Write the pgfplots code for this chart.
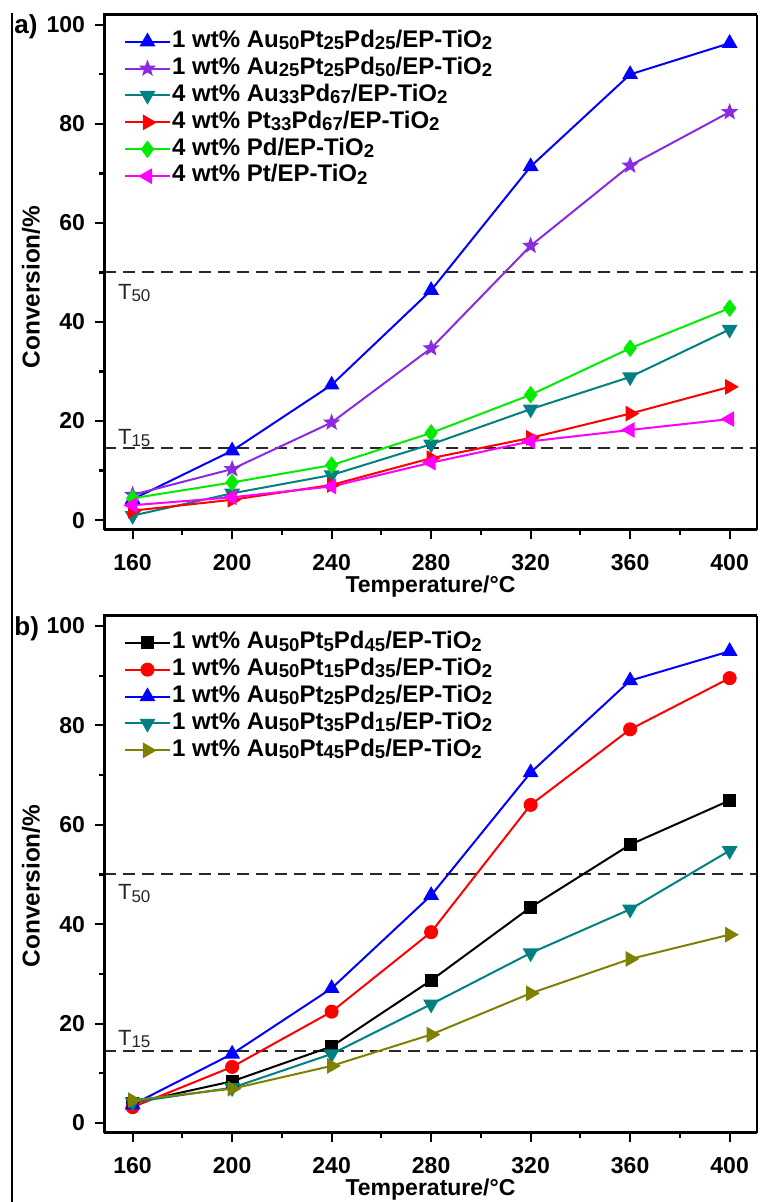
\documentclass[border=0pt]{standalone}
\usepackage{fontspec}
\setmainfont{Liberation Sans}
\usepackage{pgfplots}
\pgfplotsset{compat=1.18}
\definecolor{cblue}{RGB}{0,0,255}
\definecolor{cpurple}{RGB}{138,43,226}
\definecolor{cteal}{RGB}{0,128,128}
\definecolor{cred}{RGB}{255,0,0}
\definecolor{cgreen}{RGB}{0,235,0}
\definecolor{cmag}{RGB}{255,0,255}
\definecolor{colive}{RGB}{128,128,0}
\definecolor{cdash}{RGB}{40,40,40}
\pgfdeclareplotmark{fstar}{%
  \pgfpathmoveto{\pgfpointpolar{90}{1.3\pgfplotmarksize}}%
  \pgfpathlineto{\pgfpointpolar{126}{0.55\pgfplotmarksize}}%
  \pgfpathlineto{\pgfpointpolar{162}{1.3\pgfplotmarksize}}%
  \pgfpathlineto{\pgfpointpolar{198}{0.55\pgfplotmarksize}}%
  \pgfpathlineto{\pgfpointpolar{234}{1.3\pgfplotmarksize}}%
  \pgfpathlineto{\pgfpointpolar{270}{0.55\pgfplotmarksize}}%
  \pgfpathlineto{\pgfpointpolar{306}{1.3\pgfplotmarksize}}%
  \pgfpathlineto{\pgfpointpolar{342}{0.55\pgfplotmarksize}}%
  \pgfpathlineto{\pgfpointpolar{18}{1.3\pgfplotmarksize}}%
  \pgfpathlineto{\pgfpointpolar{54}{0.55\pgfplotmarksize}}%
  \pgfpathclose\pgfusepathqfillstroke}
\newcommand{\subn}[1]{\raisebox{-0.2ex}{\fontsize{9.3pt}{10pt}\selectfont #1}}
\newcommand{\subt}[1]{\raisebox{-0.2ex}{\fontsize{8.5pt}{9pt}\selectfont #1}}
\pgfplotsset{
  panel/.style={
    scale only axis, width=326.5pt,
    xmin=148.5, xmax=411, ymin=-2, ymax=102,
    xtick={160,200,...,400}, ytick={0,20,...,100},
    minor xtick={180,220,...,380}, minor ytick={10,30,...,90},
    tick align=outside, xtick pos=bottom, ytick pos=left,
    major tick length=4.5pt, minor tick length=2.5pt,
    every tick/.style={black, line width=1.1pt},
    axis line style={draw=none},
    tick label style={font=\bfseries\fontsize{11.5}{13}\selectfont},
    xticklabel style={yshift=-4pt},
    yticklabel style={xshift=-1.5pt},
    /pgf/number format/assume math mode=true,
    clip=false,
    legend style={at={(rel axis cs:0.03,0.975)}, anchor=north west, draw=none, fill=none,
      font=\bfseries\fontsize{12}{13}\selectfont, inner sep=0pt, row sep=0pt,
      nodes={inner sep=0.6pt, text height=9pt, text depth=3.25pt}},
    legend cell align=left,
    legend image code/.code={\draw[mark repeat=2,mark phase=2] plot coordinates {(0pt,0pt) (11.25pt,0pt) (22.5pt,0pt)};},
    every axis plot/.append style={line width=1pt, mark size=3.2pt},
  },
  dline/.style={cdash, line width=1pt, dash pattern=on 6pt off 3.5pt, forget plot, mark=none},
}
\begin{document}
\begin{tikzpicture}
\useasboundingbox (0,0) rectangle (380pt,601pt);
\draw[line width=1pt] (5.75pt,0) -- (5.75pt,594.5pt);
% ---------- panel a ----------
\begin{axis}[panel, name=pa, height=257.5pt, at={(52pt,336pt)}, anchor=south west]
\addplot[dline] coordinates {(148.5,50) (411,50)};
\addplot[dline] coordinates {(148.5,14.5) (411,14.5)};
\addplot[cblue, mark=triangle*, mark size=3.6pt] coordinates {(160,4.2) (200,14.0) (240,27.3) (280,46.4) (320,71.4) (360,90.0) (400,96.3)};
\addlegendentry{1 wt\% Au\subn{50}Pt\subn{25}Pd\subn{25}/EP-TiO\subn{2}}
\addplot[cpurple, mark=fstar, mark size=2.4pt] coordinates {(160,5.1) (200,10.3) (240,19.7) (280,34.7) (320,55.4) (360,71.6) (400,82.4)};
\addlegendentry{1 wt\% Au\subn{25}Pt\subn{25}Pd\subn{50}/EP-TiO\subn{2}}
\addplot[cteal, mark=triangle*, mark size=3.6pt, mark options={rotate=180}] coordinates {(160,0.9) (200,5.4) (240,9.1) (280,15.3) (320,22.4) (360,28.9) (400,38.5)};
\addlegendentry{4 wt\% Au\subn{33}Pd\subn{67}/EP-TiO\subn{2}}
\addplot[cred, mark=triangle*, mark size=3.6pt, mark options={rotate=-90}] coordinates {(160,1.9) (200,4.1) (240,7.1) (280,12.5) (320,16.6) (360,21.5) (400,26.9)};
\addlegendentry{4 wt\% Pt\subn{33}Pd\subn{67}/EP-TiO\subn{2}}
\addplot[cgreen, mark=diamond*, mark size=3.6pt] coordinates {(160,4.4) (200,7.6) (240,11.1) (280,17.6) (320,25.3) (360,34.7) (400,42.8)};
\addlegendentry{4 wt\% Pd/EP-TiO\subn{2}}
\addplot[cmag, mark=triangle*, mark size=3.6pt, mark options={rotate=90}] coordinates {(160,3.0) (200,4.6) (240,6.8) (280,11.6) (320,15.9) (360,18.2) (400,20.4)};
\addlegendentry{4 wt\% Pt/EP-TiO\subn{2}}
\node[anchor=west, font=\fontsize{11}{12}\selectfont, text=black!85, inner sep=0pt] at (axis cs:154,45.9) {T\subt{50}};
\node[anchor=west, font=\fontsize{11}{12}\selectfont, text=black!85, inner sep=0pt] at (axis cs:154,16.6) {T\subt{15}};
\end{axis}
\draw[line width=1.5pt] (pa.south west) -- (pa.north west) -- (pa.north east);
\draw[line width=1.5pt] (pa.south west) -- (pa.south east);
\draw[line width=0.6pt] (pa.south east) -- (pa.north east);
\node[font=\bfseries\fontsize{11.5}{13}\selectfont] at (215.25pt,307.5pt) {Temperature/°C};
\node[font=\bfseries\fontsize{12.2}{13}\selectfont, rotate=90] at (15.5pt,457.5pt) {Conversion/\%};
\node[font=\bfseries\fontsize{13}{14}\selectfont, anchor=west, inner sep=0pt] at (7pt,587.5pt) {a)};
% ---------- panel b ----------
\begin{axis}[panel, name=pb, height=258.5pt, at={(52pt,34.5pt)}, anchor=south west]
\addplot[dline] coordinates {(148.5,50) (411,50)};
\addplot[dline] coordinates {(148.5,14.5) (411,14.5)};
\addplot[black, mark=square*, mark size=2.7pt] coordinates {(160,4.0) (200,8.4) (240,15.4) (280,28.7) (320,43.4) (360,56.0) (400,64.9)};
\addlegendentry{1 wt\% Au\subn{50}Pt\subn{5}Pd\subn{45}/EP-TiO\subn{2}}
\addplot[cred, mark=*, mark size=3pt] coordinates {(160,3.2) (200,11.3) (240,22.4) (280,38.4) (320,64.0) (360,79.2) (400,89.5)};
\addlegendentry{1 wt\% Au\subn{50}Pt\subn{15}Pd\subn{35}/EP-TiO\subn{2}}
\addplot[cblue, mark=triangle*, mark size=3.6pt] coordinates {(160,3.7) (200,13.9) (240,27.1) (280,45.8) (320,70.5) (360,89.0) (400,94.9)};
\addlegendentry{1 wt\% Au\subn{50}Pt\subn{25}Pd\subn{25}/EP-TiO\subn{2}}
\addplot[cteal, mark=triangle*, mark size=3.6pt, mark options={rotate=180}] coordinates {(160,4.2) (200,7.1) (240,13.9) (280,23.9) (320,34.2) (360,43.0) (400,54.8)};
\addlegendentry{1 wt\% Au\subn{50}Pt\subn{35}Pd\subn{15}/EP-TiO\subn{2}}
\addplot[colive, mark=triangle*, mark size=3.6pt, mark options={rotate=-90}] coordinates {(160,4.6) (200,6.9) (240,11.5) (280,17.8) (320,26.1) (360,33.0) (400,37.9)};
\addlegendentry{1 wt\% Au\subn{50}Pt\subn{45}Pd\subn{5}/EP-TiO\subn{2}}
\node[anchor=west, font=\fontsize{11}{12}\selectfont, text=black!85, inner sep=0pt] at (axis cs:154,46.2) {T\subt{50}};
\node[anchor=west, font=\fontsize{11}{12}\selectfont, text=black!85, inner sep=0pt] at (axis cs:154,16.9) {T\subt{15}};
\end{axis}
\draw[line width=1.5pt] (pb.south west) -- (pb.north west) -- (pb.north east);
\draw[line width=1.5pt] (pb.south west) -- (pb.south east);
\draw[line width=0.6pt] (pb.south east) -- (pb.north east);
\node[font=\bfseries\fontsize{11.5}{13}\selectfont] at (215.25pt,6pt) {Temperature/°C};
\node[font=\bfseries\fontsize{12.2}{13}\selectfont, rotate=90] at (15.5pt,158pt) {Conversion/\%};
\node[font=\bfseries\fontsize{13}{14}\selectfont, anchor=west, inner sep=0pt] at (7pt,286.5pt) {b)};
\end{tikzpicture}
\end{document}
